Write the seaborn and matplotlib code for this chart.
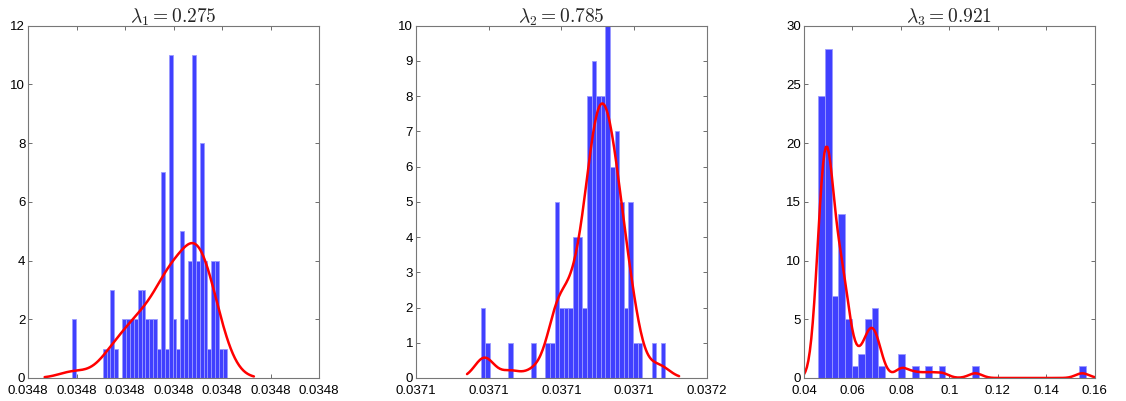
import numpy as np
import seaborn as sns
import matplotlib.pyplot as plt
from matplotlib.ticker import FormatStrFormatter, MultipleLocator

# histogram counts (40 bins each)
counts1 = [2, 0, 0, 0, 0, 0, 0, 0, 1, 1, 3, 1, 0, 2, 2, 2, 2, 3, 3, 2,
           2, 2, 1, 7, 1, 11, 2, 1, 5, 2, 4, 11, 4, 8, 4, 1, 4, 4, 1, 1]
counts2 = [2, 1, 0, 0, 0, 0, 1, 0, 0, 0, 0, 1, 0, 0, 1, 1, 5, 2, 2, 2,
           4, 4, 2, 8, 9, 8, 8, 10, 6, 7, 5, 2, 5, 1, 1, 0, 0, 1, 0, 1]
counts3 = [24, 28, 7, 14, 5, 1, 2, 5, 6, 1, 0, 0, 2, 0, 1, 0, 1, 0, 1, 0,
           0, 0, 0, 1, 0, 0, 0, 0, 0, 0, 0, 0, 0, 0, 0, 0, 0, 0, 0, 1]

# data range covered by the bins
range1 = (0.0347958, 0.0348022)
range2 = (0.0370978, 0.0371486)
range3 = (0.04591, 0.15615)

titles = [r'$\lambda_1 = 0.275$', r'$\lambda_2 = 0.785$', r'$\lambda_3 = 0.921$']
xlims = [(0.034794, 0.034806), (0.03708, 0.03716), (0.04, 0.16)]
xsteps = [0.000002, 0.00002, 0.02]
ylims = [(0, 12), (0, 10), (0, 30)]
ysteps = [2, 1, 5]
xfmts = ['%.3g', '%.3g', '%g']
bw = [1.1, 0.75, 0.46]
cuts = [2.0, 1.7, 3.0]

sns.set_style('white')
plt.rcParams['font.family'] = ['Liberation Sans', 'DejaVu Sans']
plt.rcParams['mathtext.fontset'] = 'cm'

fig = plt.figure(figsize=(11.26, 4.01), dpi=100)
lefts = [0.0249, 0.3694, 0.714]

for i, (cnt, rng) in enumerate(zip([counts1, counts2, counts3], [range1, range2, range3])):
    ax = fig.add_axes([lefts[i], 0.0574, 0.2584, 0.8786])
    edges = np.linspace(rng[0], rng[1], len(cnt) + 1)
    centers = (edges[:-1] + edges[1:]) / 2
    x = np.repeat(centers, cnt)
    sns.histplot(x=x, bins=len(cnt), binrange=rng, kde=True, ax=ax,
                 color='#4040ff', alpha=1, edgecolor='#9a9aff', linewidth=0.6,
                 kde_kws={'bw_adjust': bw[i], 'cut': cuts[i], 'clip': xlims[i]},
                 line_kws={'lw': 1.8})
    ax.lines[-1].set_color('red')
    ax.set_xlim(*xlims[i])
    ax.set_ylim(*ylims[i])
    ax.xaxis.set_major_locator(MultipleLocator(xsteps[i]))
    ax.yaxis.set_major_locator(MultipleLocator(ysteps[i]))
    ax.xaxis.set_major_formatter(FormatStrFormatter(xfmts[i]))
    ax.set_xlabel('')
    ax.set_ylabel('')
    ax.set_title(titles[i], fontsize=14, pad=2)
    ax.tick_params(direction='in', length=3, width=0.6, colors='#555555',
                   labelcolor='black', labelsize=9.5, top=True, right=True,
                   bottom=True, left=True, pad=2)
    ax.tick_params(axis='x', pad=5)
    for s in ax.spines.values():
        s.set_color('#777777')
        s.set_linewidth(0.8)

plt.savefig('out.png', dpi=100)
